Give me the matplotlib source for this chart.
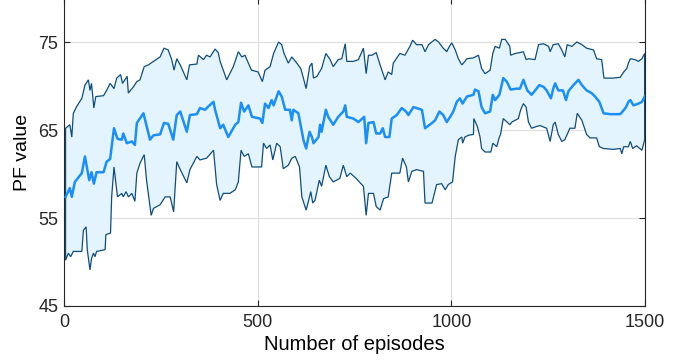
import numpy as np
import matplotlib
matplotlib.use("Agg")
import matplotlib.pyplot as plt

# mean PF value
ep_mean = [4, 15, 20, 28, 46, 54, 65, 71, 77, 84, 102, 110, 119, 129, 138, 149, 153, 162, 175, 183,
           188, 205, 222, 231, 248, 258, 269, 282, 291, 300, 317, 325, 343, 351, 364, 373, 386, 390,
           403, 411, 424, 442, 450, 457, 465, 476, 485, 506, 512, 519, 528, 536, 541, 554, 562, 571,
           583, 588, 592, 605, 618, 625, 634, 640, 644, 657, 661, 665, 676, 682, 695, 708, 721, 726,
           730, 747, 760, 775, 780, 786, 799, 806, 816, 823, 829, 840, 846, 859, 872, 883, 889, 902,
           924, 932, 950, 958, 969, 979, 988, 997, 1005, 1014, 1022, 1029, 1040, 1057, 1061, 1070,
           1078, 1087, 1100, 1107, 1113, 1124, 1134, 1143, 1153, 1169, 1177, 1186, 1196, 1207, 1220,
           1227, 1238, 1246, 1257, 1263, 1268, 1276, 1288, 1296, 1302, 1315, 1328, 1337, 1349, 1362,
           1371, 1382, 1393, 1410, 1436, 1442, 1451, 1457, 1462, 1470, 1483, 1492, 1499]
pf_mean = [57.4, 58.4, 57.4, 59.1, 60.1, 62.0, 59.3, 60.2, 58.9, 60.2, 60.2, 61.4, 61.7, 65.2, 64.0,
           63.9, 64.6, 63.5, 63.7, 63.3, 65.8, 66.9, 63.9, 64.4, 64.5, 65.8, 65.7, 63.9, 66.7, 67.1,
           64.8, 66.7, 66.8, 67.5, 67.3, 67.7, 68.2, 67.3, 65.2, 65.6, 64.2, 65.6, 65.9, 68.1, 67.1,
           67.8, 66.5, 66.3, 65.8, 68.0, 67.5, 68.4, 67.8, 69.4, 68.8, 67.3, 67.3, 66.1, 67.3, 66.9,
           63.9, 62.9, 64.8, 64.2, 63.5, 64.2, 65.6, 64.8, 67.3, 66.5, 65.6, 66.5, 67.1, 67.8, 66.5,
           66.3, 65.9, 66.5, 63.5, 65.8, 65.9, 64.6, 64.6, 65.2, 64.2, 64.2, 66.3, 66.7, 67.5, 67.1,
           66.7, 67.6, 67.3, 65.2, 65.8, 66.1, 67.1, 66.7, 65.9, 66.5, 67.1, 68.2, 68.6, 68.0, 68.8,
           69.0, 69.6, 69.4, 67.6, 66.9, 67.1, 69.0, 68.4, 69.0, 70.9, 70.5, 69.6, 69.7, 69.7, 70.7,
           69.5, 69.0, 69.7, 70.1, 69.9, 69.5, 68.6, 69.7, 70.3, 69.5, 69.5, 68.4, 69.4, 70.1, 70.7,
           70.1, 69.5, 69.2, 68.8, 68.2, 66.9, 66.8, 66.8, 67.1, 67.6, 68.2, 68.4, 67.8, 68.0, 68.2,
           68.8]

# upper bound
ep_up = [4, 15, 20, 24, 33, 46, 54, 63, 67, 71, 77, 82, 102, 110, 119, 129, 136, 146, 151, 163, 166,
         179, 188, 196, 207, 218, 231, 248, 258, 269, 278, 284, 291, 300, 317, 324, 343, 347, 360,
         368, 377, 390, 398, 403, 420, 437, 450, 459, 467, 476, 484, 501, 512, 519, 532, 541, 554,
         562, 568, 579, 588, 601, 611, 618, 625, 634, 640, 644, 653, 665, 676, 687, 695, 708, 717,
         726, 730, 747, 760, 773, 780, 786, 795, 806, 816, 829, 837, 846, 850, 867, 880, 893, 900,
         910, 924, 932, 941, 958, 967, 979, 988, 995, 1001, 1010, 1018, 1027, 1035, 1040, 1057,
         1070, 1078, 1087, 1100, 1107, 1113, 1124, 1130, 1139, 1151, 1153, 1165, 1177, 1186, 1193,
         1199, 1216, 1225, 1238, 1251, 1255, 1263, 1276, 1285, 1293, 1299, 1311, 1324, 1337, 1349,
         1367, 1375, 1388, 1394, 1418, 1436, 1445, 1453, 1457, 1462, 1474, 1483, 1492, 1499]
pf_up = [65.2, 65.6, 64.2, 66.9, 67.7, 68.6, 70.1, 70.7, 69.5, 70.3, 67.5, 68.8, 68.9, 69.5, 70.3,
         69.7, 70.9, 71.3, 70.3, 71.1, 69.2, 69.9, 70.5, 70.7, 72.2, 72.4, 72.8, 73.3, 74.3, 74.1,
         73.0, 71.8, 73.1, 72.4, 70.7, 72.4, 72.5, 73.5, 73.0, 73.5, 73.3, 74.2, 73.8, 72.8, 70.7,
         72.2, 73.9, 73.3, 73.5, 72.6, 71.8, 71.6, 70.5, 71.8, 72.2, 73.7, 75.0, 74.7, 73.7, 72.6,
         73.3, 72.6, 72.0, 70.9, 69.7, 72.2, 72.6, 70.9, 71.1, 72.0, 73.7, 73.0, 72.2, 73.0, 73.1,
         74.8, 72.8, 72.8, 73.0, 74.3, 71.4, 73.5, 73.5, 73.8, 72.4, 70.7, 71.6, 71.3, 72.6, 73.7,
         73.5, 74.5, 75.2, 74.7, 74.7, 73.9, 74.7, 75.3, 75.0, 74.3, 73.9, 74.5, 74.9, 74.1, 73.1,
         72.4, 72.8, 73.1, 73.2, 73.5, 72.0, 71.4, 71.8, 73.7, 74.5, 74.3, 75.3, 75.3, 74.5, 73.5,
         73.7, 73.8, 73.9, 73.0, 73.1, 73.0, 74.7, 74.8, 74.5, 73.9, 74.7, 74.8, 74.1, 73.3, 74.7,
         74.5, 75.0, 74.7, 74.3, 74.1, 73.1, 73.0, 70.9, 70.9, 71.0, 71.6, 72.0, 72.6, 73.1, 73.0,
         72.8, 73.1, 73.7]

# lower bound
ep_low = [4, 11, 17, 24, 46, 50, 57, 60, 67, 71, 76, 80, 84, 106, 108, 120, 123, 129, 138, 149, 153,
          160, 166, 175, 183, 188, 196, 207, 213, 225, 231, 248, 261, 274, 283, 291, 300, 317, 325,
          343, 351, 368, 386, 394, 403, 411, 428, 442, 450, 457, 465, 476, 485, 510, 515, 523, 532,
          539, 549, 558, 566, 579, 588, 597, 608, 614, 625, 631, 637, 642, 648, 659, 665, 676, 685,
          695, 712, 721, 730, 739, 754, 773, 780, 786, 799, 806, 816, 825, 837, 846, 867, 874, 884,
          889, 898, 910, 928, 932, 950, 962, 975, 984, 992, 1003, 1010, 1018, 1027, 1029, 1035, 1044,
          1057, 1058, 1067, 1074, 1078, 1087, 1102, 1107, 1117, 1124, 1127, 1134, 1151, 1156, 1173,
          1179, 1186, 1193, 1199, 1207, 1220, 1229, 1246, 1255, 1263, 1268, 1276, 1285, 1293, 1306,
          1319, 1325, 1337, 1349, 1358, 1375, 1382, 1393, 1418, 1436, 1440, 1445, 1457, 1462, 1468,
          1478, 1492, 1499]
pf_low = [50.2, 51.0, 50.6, 51.2, 51.2, 53.6, 54.0, 51.4, 49.1, 50.4, 51.0, 50.6, 51.2, 51.4, 53.1,
          53.3, 57.4, 60.8, 57.4, 57.8, 57.4, 58.0, 57.4, 57.8, 56.9, 60.1, 61.2, 62.2, 59.3, 55.3,
          56.1, 56.5, 57.4, 57.4, 55.7, 61.4, 60.5, 59.0, 60.5, 62.0, 61.6, 61.8, 62.7, 58.8, 57.0,
          57.8, 57.8, 58.2, 59.1, 62.7, 62.0, 62.3, 60.8, 60.8, 63.5, 62.9, 63.3, 61.6, 63.5, 63.1,
          60.6, 61.0, 61.8, 62.0, 60.8, 57.4, 55.9, 56.9, 58.0, 56.7, 57.0, 59.3, 58.6, 61.0, 59.7,
          59.1, 59.5, 61.0, 59.7, 60.1, 59.5, 58.6, 55.3, 57.8, 57.8, 56.3, 55.9, 57.2, 57.4, 60.1,
          60.1, 61.8, 60.8, 59.1, 60.3, 60.5, 60.3, 56.7, 56.7, 58.8, 58.9, 58.2, 58.8, 59.1, 62.0,
          63.9, 64.2, 63.5, 64.2, 64.4, 64.5, 66.3, 65.4, 64.2, 62.9, 62.5, 62.5, 63.5, 63.1, 64.2,
          64.5, 66.3, 65.6, 65.9, 66.3, 67.3, 68.0, 67.6, 65.9, 65.2, 65.4, 65.5, 65.2, 63.7, 65.6,
          65.9, 64.5, 63.7, 63.9, 65.2, 65.2, 66.9, 66.1, 64.5, 64.1, 64.1, 63.1, 62.9, 62.8, 62.9,
          62.3, 63.1, 63.1, 63.7, 62.9, 63.2, 62.7, 63.9]

fig = plt.figure(figsize=(6.99, 3.62), dpi=100)
ax = fig.add_axes([0.0916, 0.1547, 0.8312, 0.8508])

# band: upper forward, lower backward
poly_x = np.concatenate([ep_up, ep_low[::-1]])
poly_y = np.concatenate([pf_up, pf_low[::-1]])
ax.fill(poly_x, poly_y, facecolor='#E4F4FE', edgecolor='#0E4D7E', linewidth=0.9, zorder=2)
ax.plot(ep_mean, pf_mean, color='#1A8FF7', linewidth=1.8, zorder=3)

ax.set_xlim(0, 1500)
ax.set_ylim(45, 80)
ax.set_xticks([0, 500, 1000, 1500])
ax.set_yticks([45, 55, 65, 75])

tick_font = {'family': 'Liberation Sans', 'size': 13}
ax.set_xticklabels(['0', '500', '1000', '1500'], fontdict=tick_font)
ax.set_yticklabels(['45', '55', '65', '75'], fontdict=tick_font)
ax.tick_params(direction='in', length=4.5, width=0.8, top=True, right=True, colors='#262626')
ax.tick_params(axis='x', pad=6)
ax.tick_params(axis='y', pad=4)
ax.set_axisbelow(True)
ax.grid(True, color='#DEDEDE', linewidth=0.8)
for s in ax.spines.values():
    s.set_color('#262626')
    s.set_linewidth(0.8)

ax.set_xlabel('Number of episodes', family='Liberation Sans', fontsize=14.5, labelpad=3)
ax.set_ylabel('PF value', family='Liberation Sans', fontsize=14, labelpad=5)

fig.savefig('out.png', dpi=100)
